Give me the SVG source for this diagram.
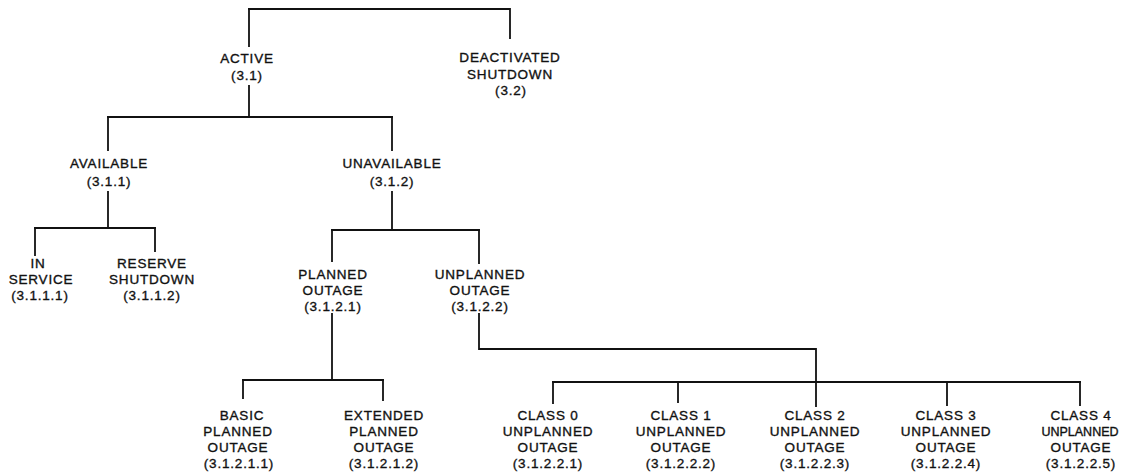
<svg xmlns="http://www.w3.org/2000/svg" width="1121" height="474" viewBox="0 0 1121 474">
<style>
  text { font-family: "Liberation Sans", Arial, sans-serif; font-size: 13.5px; letter-spacing: 0.8px; fill: #111; stroke: #111; stroke-width: 0.35; text-anchor: middle; }
  .c { fill: none; stroke: #111; stroke-width: 1.8; stroke-linecap: square; }
</style>
<rect width="1121" height="474" fill="#fff"/>
<g id="connectors">
  <path class="c" d="M249,9 H510 V38"/>
  <path class="c" d="M249,9 V46"/>
  <path class="c" d="M249,86 V117"/>
  <path class="c" d="M108,117 H392"/>
  <path class="c" d="M108,117 V150"/>
  <path class="c" d="M392,117 V150"/>
  <path class="c" d="M108,192 V228"/>
  <path class="c" d="M35,228 H155"/>
  <path class="c" d="M35,228 V255"/>
  <path class="c" d="M155,228 V251"/>
  <path class="c" d="M392,192 V230"/>
  <path class="c" d="M332,230 H479"/>
  <path class="c" d="M332,230 V261"/>
  <path class="c" d="M479,230 V263"/>
  <path class="c" d="M332,314 V380"/>
  <path class="c" d="M243,380 H383"/>
  <path class="c" d="M243,380 V398"/>
  <path class="c" d="M383,380 V400"/>
  <path class="c" d="M479,314 V349 H816 V406"/>
  <path class="c" d="M553,382 H1080"/>
  <path class="c" d="M553,382 V403"/>
  <path class="c" d="M678,382 V402"/>
  <path class="c" d="M947,382 V405"/>
  <path class="c" d="M1080,382 V405"/>
</g>
<g id="active"><text x="247" y="63">ACTIVE</text><text x="247" y="80">(3.1)</text></g>
<g id="deactivated"><text x="510" y="62">DEACTIVATED</text><text x="510" y="78.5">SHUTDOWN</text><text x="511" y="95">(3.2)</text></g>
<g id="available"><text x="109" y="168">AVAILABLE</text><text x="109" y="186">(3.1.1)</text></g>
<g id="unavailable"><text x="392" y="168">UNAVAILABLE</text><text x="392" y="186">(3.1.2)</text></g>
<g id="in-service"><text x="38" y="268">IN</text><text x="41" y="284">SERVICE</text><text x="40" y="300">(3.1.1.1)</text></g>
<g id="reserve-shutdown"><text x="152" y="268">RESERVE</text><text x="152" y="284">SHUTDOWN</text><text x="152" y="300">(3.1.1.2)</text></g>
<g id="planned-outage"><text x="333" y="279">PLANNED</text><text x="333" y="295">OUTAGE</text><text x="333" y="311">(3.1.2.1)</text></g>
<g id="unplanned-outage"><text x="480" y="279">UNPLANNED</text><text x="480" y="295">OUTAGE</text><text x="480" y="311">(3.1.2.2)</text></g>
<g id="basic-planned"><text x="242" y="420">BASIC</text><text x="238" y="436">PLANNED</text><text x="238" y="452">OUTAGE</text><text x="239" y="468">(3.1.2.1.1)</text></g>
<g id="extended-planned"><text x="384" y="420">EXTENDED</text><text x="384" y="436">PLANNED</text><text x="384" y="452">OUTAGE</text><text x="384" y="468">(3.1.2.1.2)</text></g>
<g id="class0"><text x="548" y="420">CLASS 0</text><text x="548" y="436">UNPLANNED</text><text x="548" y="452">OUTAGE</text><text x="548" y="468">(3.1.2.2.1)</text></g>
<g id="class1"><text x="681" y="420">CLASS 1</text><text x="681" y="436">UNPLANNED</text><text x="681" y="452">OUTAGE</text><text x="681" y="468">(3.1.2.2.2)</text></g>
<g id="class2"><text x="815" y="420">CLASS 2</text><text x="815" y="436">UNPLANNED</text><text x="815" y="452">OUTAGE</text><text x="815" y="468">(3.1.2.2.3)</text></g>
<g id="class3"><text x="946" y="420">CLASS 3</text><text x="946" y="436">UNPLANNED</text><text x="946" y="452">OUTAGE</text><text x="946" y="468">(3.1.2.2.4)</text></g>
<g id="class4"><text x="1081" y="420">CLASS 4</text><text x="1080" y="436" style="font-size:12.5px;letter-spacing:0">UNPLANNED</text><text x="1081" y="452">OUTAGE</text><text x="1081" y="468">(3.1.2.2.5)</text></g>
</svg>
